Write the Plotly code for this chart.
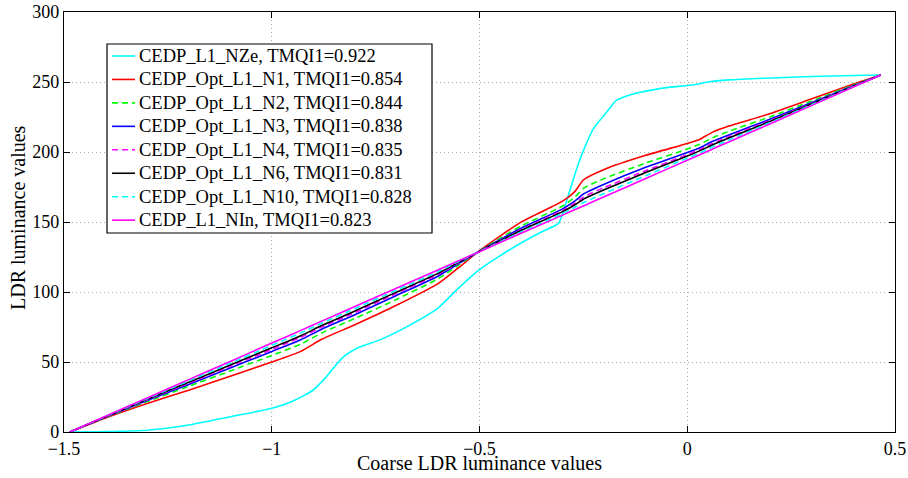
import plotly.graph_objects as go

x_vals = [-1.486, -1.4, -1.3, -1.2, -1.1, -1.0, -0.93, -0.88, -0.8, -0.7, -0.6, -0.55, -0.5,
          -0.4, -0.3, -0.27, -0.25, -0.2, -0.1, 0.0, 0.03, 0.06, 0.1, 0.2, 0.3, 0.4, 0.466]

# CEDP_L1_NZe has its own sampling (S-shaped curve)
x_nze = [-1.486, -1.4, -1.3, -1.2, -1.1, -1.0, -0.95, -0.9, -0.87, -0.83, -0.79, -0.74, -0.67,
         -0.6, -0.55, -0.5, -0.45, -0.4, -0.35, -0.31, -0.3, -0.28, -0.265, -0.25, -0.225,
         -0.19, -0.17, -0.13, -0.09, -0.05, 0.0, 0.03, 0.05, 0.1, 0.2, 0.3, 0.4, 0.466]
y_nze = [0, 0.3, 1.3, 5.0, 10.9, 16.9, 22.0, 30.0, 39.0, 53.0, 60.5, 65.8, 76.0,
         88.5, 103.0, 116.0, 126.0, 135.0, 143.0, 149.0, 156.0, 175.0, 189.0, 201.0, 217.0,
         230.0, 237.0, 241.5, 244.0, 246.0, 247.5, 248.8, 250.0, 251.5, 252.9, 253.9, 254.6, 255.0]

y_n1 = [0, 10.0, 20.3, 29.9, 39.9, 50.0, 57.6, 66.2, 76.6, 90.5, 106.0, 117.5, 129.5,
        149.9, 164.9, 171.9, 180.0, 187.5, 197.6, 206.1, 209.0, 214.0, 218.5, 227.5, 238.0, 248.5, 255]
y_n2 = [0, 10.4, 21.7, 32.6, 43.6, 54.7, 62.8, 70.7, 81.1, 94.7, 109.4, 119.3, 129.3,
        147.1, 161.4, 167.9, 174.0, 181.0, 192.1, 202.1, 205.5, 210.0, 214.7, 225.2, 236.5, 247.8, 255]
y_n3 = [0, 10.7, 22.5, 34.0, 45.7, 57.5, 65.9, 73.4, 83.8, 97.5, 111.3, 120.3, 129.1,
        145.5, 159.4, 165.1, 170.0, 177.0, 189.1, 199.6, 203.0, 207.5, 212.2, 223.5, 235.4, 247.4, 255]
y_n4 = [0, 10.8, 23.0, 34.9, 46.9, 59.0, 67.6, 74.9, 85.3, 99.0, 112.5, 120.8, 129.0,
        144.5, 158.2, 163.4, 167.8, 174.6, 186.6, 198.1, 201.7, 206.0, 210.9, 222.6, 234.8, 247.1, 255]
y_n6 = [0, 10.9, 23.3, 35.5, 47.8, 60.1, 68.8, 76.0, 86.4, 99.9, 113.3, 121.2, 129.0,
        143.9, 157.4, 162.3, 166.3, 173.0, 185.3, 197.1, 200.8, 205.0, 210.0, 222.0, 234.5, 246.9, 255]
y_n10 = [0, 11.1, 23.8, 36.5, 49.1, 61.9, 70.8, 77.7, 88.1, 101.3, 114.5, 121.8, 128.9,
         142.9, 156.1, 160.5, 163.8, 170.4, 183.1, 195.6, 199.3, 203.5, 208.5, 221.1, 233.9, 246.7, 255]
y_nin = [0, 11.2, 24.3, 37.4, 50.4, 63.5, 72.6, 79.2, 89.6, 102.7, 115.7, 122.3, 128.8,
         141.9, 154.9, 158.9, 161.5, 168.0, 181.1, 194.1, 198.0, 202.0, 207.2, 220.2, 233.3, 246.4, 255]

names = ["CEDP_L1_NZe, TMQI1=0.922",
         "CEDP_Opt_L1_N1, TMQI1=0.854",
         "CEDP_Opt_L1_N2, TMQI1=0.844",
         "CEDP_Opt_L1_N3, TMQI1=0.838",
         "CEDP_Opt_L1_N4, TMQI1=0.835",
         "CEDP_Opt_L1_N6, TMQI1=0.831",
         "CEDP_Opt_L1_N10, TMQI1=0.828",
         "CEDP_L1_NIn, TMQI1=0.823"]

x_ticks = [-1.5, -1.0, -0.5, 0.0, 0.5]
x_tick_text = ["\u22121.5", "\u22121", "\u22120.5", "0", "0.5"]
y_ticks = [0, 50, 100, 150, 200, 250, 300]

x_title = "Coarse LDR luminance values"
y_title = "LDR luminance values"

series = [
    (x_nze, y_nze, "#00FFFF", "solid"),
    (x_vals, y_n1, "#FF0000", "solid"),
    (x_vals, y_n2, "#00FF00", "6px,4px"),
    (x_vals, y_n3, "#0000FF", "solid"),
    (x_vals, y_n4, "#FF00FF", "6px,4px"),
    (x_vals, y_n6, "#000000", "solid"),
    (x_vals, y_n10, "#00FFFF", "6px,4px"),
    (x_vals, y_nin, "#FF00FF", "solid"),
]

W, H = 908, 478
ML, MR, MT, MB = 64, 13, 12, 46
PW, PH = W - ML - MR, H - MT - MB


def px_x(p):
    return (p - ML) / PW


def px_y(p):
    return (H - MB - p) / PH


fig = go.Figure()
for (xs, ys, col, dash), nm in zip(series, names):
    fig.add_trace(go.Scatter(x=xs, y=ys, mode="lines", name=nm, showlegend=False,
                             line=dict(color=col, width=1.6, dash=dash,
                                       shape="spline", smoothing=0.6)))

font_family = "Liberation Serif"

# manual legend (box, line samples, labels)
shapes = [dict(type="rect", xref="paper", yref="paper",
               x0=px_x(107), x1=px_x(432), y0=px_y(233), y1=px_y(44),
               line=dict(color="black", width=1.2), fillcolor="white", layer="above")]
annotations = []
row0, step = 56.0, 23.45
for i, ((xs, ys, col, dash), nm) in enumerate(zip(series, names)):
    yc = row0 + i * step
    shapes.append(dict(type="line", xref="paper", yref="paper",
                       x0=px_x(112), x1=px_x(135), y0=px_y(yc), y1=px_y(yc),
                       line=dict(color=col, width=1.6, dash=dash), layer="above"))
    annotations.append(dict(text=nm, xref="paper", yref="paper", x=px_x(137), y=px_y(yc),
                            xanchor="left", yanchor="middle", showarrow=False,
                            font=dict(family=font_family, size=18.5, color="black")))

annotations.append(dict(text=x_title, xref="paper", yref="paper", x=0.5, y=px_y(463),
                        xanchor="center", yanchor="middle", showarrow=False,
                        font=dict(family=font_family, size=20, color="black")))
annotations.append(dict(text=y_title, xref="paper", yref="paper", x=px_x(18), y=px_y(218),
                        xanchor="center", yanchor="middle", showarrow=False, textangle=-90,
                        font=dict(family=font_family, size=20, color="black")))

fig.update_layout(
    width=W, height=H,
    margin=dict(l=ML, r=MR, t=MT, b=MB),
    paper_bgcolor="white", plot_bgcolor="white",
    font=dict(family=font_family, size=18, color="black"),
    showlegend=False,
    shapes=shapes, annotations=annotations,
)
axis_common = dict(showline=True, linecolor="black", linewidth=1.2, mirror="ticks",
                   ticks="inside", ticklen=6, tickcolor="black", tickwidth=1,
                   showgrid=True, gridcolor="#a8a8a8", griddash="1px,3px", gridwidth=1,
                   zeroline=False, automargin=False,
                   tickfont=dict(family=font_family, size=18, color="black"))
fig.update_xaxes(range=[-1.5, 0.5], tickvals=x_ticks, ticktext=x_tick_text, **axis_common)
fig.update_yaxes(range=[0, 300], tickvals=y_ticks, **axis_common)

fig.write_html("out.html", config={"displayModeBar": False},
               post_script="document.body.style.margin='0px';")
